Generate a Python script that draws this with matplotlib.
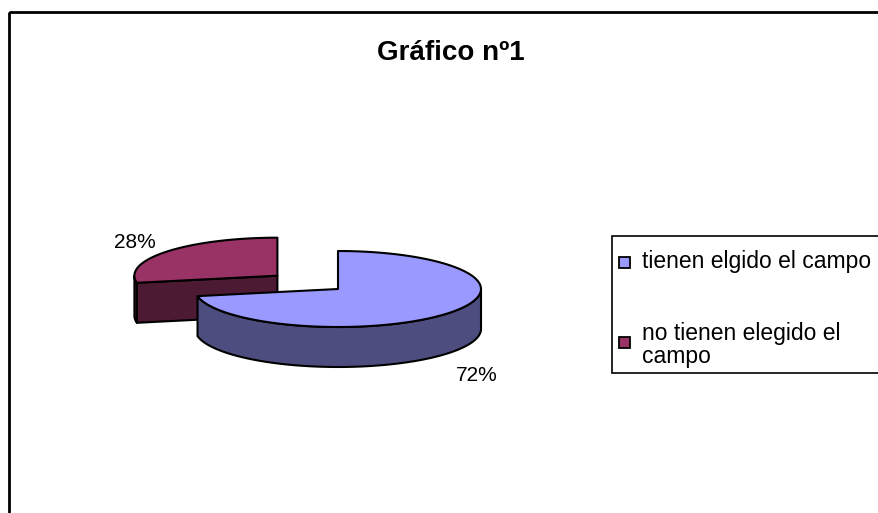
import numpy as np
import matplotlib
matplotlib.use('Agg')
import matplotlib.pyplot as plt
from matplotlib.patches import Polygon, Rectangle

# data
labels = ['tienen elgido el campo', 'no tienen elegido el\ncampo']
values = [72, 28]
pct_labels = ['72%', '28%']
top_colors = ['#9999FF', '#993366']
side_colors = ['#4D4D80', '#4D1A33']
title = 'Gráfico nº1'

plt.rcParams['font.family'] = ['Liberation Sans', 'DejaVu Sans']

W, H = 879, 513
fig = plt.figure(figsize=(W / 100, H / 100), dpi=100)
ax = fig.add_axes([0, 0, 1, 1])
ax.set_xlim(0, W)
ax.set_ylim(H, 0)
ax.axis('off')

# pie geometry (pixels)
cx, cy = 338, 289
rx, ry = 143, 38
depth = 40
explode = [0, 0.55]


def rim(x0, y0, t, dz=0):
    t = np.radians(t)
    return x0 + rx * np.cos(t), y0 - ry * np.sin(t) + dz


def arc(x0, y0, a, b, dz=0, n=120):
    t = np.linspace(a, b, n)
    xs, ys = rim(x0, y0, t, dz)
    return np.column_stack([xs, ys])


# slice angles: start at 90 deg going clockwise
total = float(sum(values))
spans = [v / total * 360 for v in values]
starts = []
a = 90
for s in spans:
    starts.append((a - s, a))  # (low, high) angles
    a -= s

draw_order = [1, 0]  # back slice first
for i in draw_order:
    lo, hi = starts[i]
    mid = np.radians((lo + hi) / 2)
    ox = cx + explode[i] * rx * np.cos(mid)
    oy = cy - explode[i] * ry * np.sin(mid)
    lo_n, hi_n = lo % 360, hi % 360
    if hi_n <= lo_n:
        hi_n += 360
    # visible side arc (front half 180..360)
    fa, fb = max(lo_n, 180), min(hi_n, 360)
    if fb > fa:
        top = arc(ox, oy, fa, fb)
        bot = arc(ox, oy, fb, fa, dz=depth)
        ax.add_patch(Polygon(np.vstack([top, bot]), closed=True,
                             facecolor=side_colors[i], edgecolor='black',
                             lw=1.5, joinstyle='round'))
    # radial faces that face the viewer
    for edge, sign in ((hi_n, 1), (lo_n, -1)):
        normal = edge + 90 * sign
        if np.sin(np.radians(normal)) < 0:
            px, py = rim(ox, oy, edge)
            quad = [(ox, oy), (px, py), (px, py + depth), (ox, oy + depth)]
            ax.add_patch(Polygon(quad, closed=True,
                                 facecolor=side_colors[i], edgecolor='black',
                                 lw=1.5, joinstyle='round'))
    # top face
    pts = np.vstack([[(ox, oy)], arc(ox, oy, lo_n, hi_n)])
    ax.add_patch(Polygon(pts, closed=True, facecolor=top_colors[i],
                         edgecolor='black', lw=1.5, joinstyle='round'))

# percentage labels
ax.text(477, 381, pct_labels[0], fontsize=15, ha='center', va='baseline')
ax.text(134.5, 248, pct_labels[1], fontsize=15, ha='center', va='baseline')

# title
ax.text(451, 60, title, fontsize=20, fontweight='bold', ha='center',
        va='baseline')

# legend (runs off the right edge like the original)
ax.add_patch(Rectangle((612, 236), 300, 137, facecolor='white',
                       edgecolor='black', lw=1.2, clip_on=False))
leg_y = [262, 342]
for i in range(2):
    ax.add_patch(Rectangle((619, leg_y[i] - 5.5), 11, 11,
                           facecolor=top_colors[i], edgecolor='black', lw=1.3))
    n_lines = labels[i].count('\n')
    # va='baseline' pins the last line
    ax.text(642, leg_y[i] + 6 + n_lines * 15, labels[i], fontsize=16.5,
            ha='left', va='baseline', linespacing=1.0)

# chart border
ax.add_patch(Rectangle((9, 12), 900, 530, fill=False, edgecolor='black',
                       lw=2, clip_on=False))

fig.savefig('out.png', dpi=100)
